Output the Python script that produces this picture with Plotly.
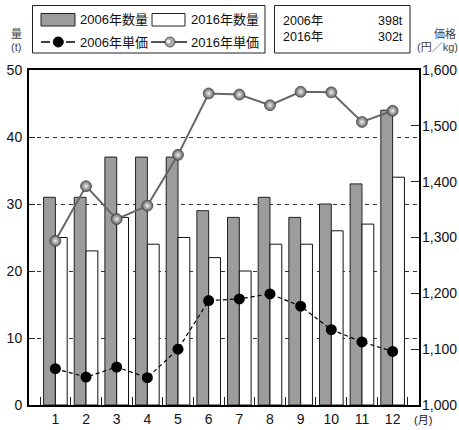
import plotly.graph_objects as go

# Monthly volumes (t) and unit prices (yen/kg), 2006 vs 2016
months = ["1", "2", "3", "4", "5", "6", "7", "8", "9", "10", "11", "12"]
qty_2006 = [31, 31, 37, 37, 37, 29, 28, 31, 28, 30, 33, 44]
qty_2016 = [25, 23, 28, 24, 25, 22, 20, 24, 24, 26, 27, 34]
price_2006 = [1065, 1050, 1068, 1049, 1100, 1187, 1190, 1199, 1177, 1135, 1113, 1096]
price_2016 = [1294, 1392, 1333, 1357, 1448, 1558, 1556, 1537, 1561, 1560, 1507, 1527]
total_years = ["2006年", "2016年"]
total_tons = ["398t", "302t"]
legend_labels = ["2006年数量", "2016年数量", "2006年単価", "2016年単価"]

W, H = 459, 430
L, R, T, B = 29, 419, 70, 405
FONT = "Liberation Sans, Arial, Noto Sans CJK JP, sans-serif"
GRAY_BAR = "#9c9c9c"


def px(x):
    return (x - L) / (R - L)


def py(y):
    return (B - y) / (B - T)


fig = go.Figure()

fig.add_trace(go.Bar(x=months, y=qty_2006, name=legend_labels[0],
                     marker=dict(color=GRAY_BAR, line=dict(color="#222", width=1))))
fig.add_trace(go.Bar(x=months, y=qty_2016, name=legend_labels[1],
                     marker=dict(color="white", line=dict(color="#111", width=1))))

fig.add_trace(go.Scatter(x=months, y=price_2006, yaxis="y2", mode="lines+markers",
                         name=legend_labels[2],
                         line=dict(color="black", width=1.2, dash="4px,3px"),
                         marker=dict(color="black", size=11)))
fig.add_trace(go.Scatter(x=months, y=price_2016, yaxis="y2", mode="lines+markers",
                         name=legend_labels[3],
                         line=dict(color="#666", width=2),
                         marker=dict(color="#5e5e5e", size=11,
                                     gradient=dict(type="radial", color="#f0f0f0"),
                                     line=dict(color="#333", width=0.6))))

shapes = []
annotations = []

# legend box for series
shapes.append(dict(type="rect", xref="paper", yref="paper",
                   x0=px(32.5), x1=px(265), y0=py(53), y1=py(5.5),
                   line=dict(color="#222", width=1), fillcolor="white"))
shapes.append(dict(type="rect", xref="paper", yref="paper",
                   x0=px(41), x1=px(75), y0=py(26), y1=py(13.5),
                   line=dict(color="#222", width=1), fillcolor=GRAY_BAR))
shapes.append(dict(type="rect", xref="paper", yref="paper",
                   x0=px(152), x1=px(185), y0=py(26), y1=py(13.5),
                   line=dict(color="#222", width=1), fillcolor="white"))
# dashed key for 2006 price
for a, b in [(41, 50), (66, 75)]:
    shapes.append(dict(type="line", xref="paper", yref="paper",
                       x0=px(a), x1=px(b), y0=py(42), y1=py(42),
                       line=dict(color="black", width=1.5)))
shapes.append(dict(type="circle", xref="paper", yref="paper",
                   x0=px(53.3), x1=px(63.3), y0=py(47), y1=py(37),
                   line=dict(color="black", width=1), fillcolor="black"))
# solid key for 2016 price
shapes.append(dict(type="line", xref="paper", yref="paper",
                   x0=px(151), x1=px(187), y0=py(42), y1=py(42),
                   line=dict(color="#555", width=2)))
shapes.append(dict(type="circle", xref="paper", yref="paper",
                   x0=px(165), x1=px(175), y0=py(47), y1=py(37),
                   line=dict(color="#333", width=0.8), fillcolor="#a8a8a8"))
shapes.append(dict(type="circle", xref="paper", yref="paper",
                   x0=px(166.5), x1=px(170.5), y0=py(43.5), y1=py(39.5),
                   line=dict(width=0), fillcolor="#eeeeee"))

for x, y, t in [(77.5, 19.5, legend_labels[0]), (189, 19.5, legend_labels[1]),
                (77.5, 42, legend_labels[2]), (189, 42, legend_labels[3])]:
    annotations.append(dict(xref="paper", yref="paper", x=px(x), y=py(y), text=t,
                            showarrow=False, xanchor="left", yanchor="middle",
                            font=dict(family=FONT, size=13, color="#111")))

# totals box
shapes.append(dict(type="rect", xref="paper", yref="paper",
                   x0=px(274.5), x1=px(410), y0=py(53), y1=py(5.5),
                   line=dict(color="#222", width=1), fillcolor="white"))
annotations.append(dict(xref="paper", yref="paper", x=px(281), y=py(29), 
                        text="<br>".join(total_years), align="left",
                        showarrow=False, xanchor="left", yanchor="middle",
                        font=dict(family=FONT, size=12.5, color="#111")))
annotations.append(dict(xref="paper", yref="paper", x=px(405), y=py(29),
                        text="<br>".join(total_tons), align="right",
                        showarrow=False, xanchor="right", yanchor="middle",
                        font=dict(family=FONT, size=12.5, color="#111")))

# axis titles
for x, y, t in [(16.5, 34, "量"), (15.5, 46.5, "(t)"),
                (445, 33.5, "価格"), (437.5, 46.5, "(円／kg)")]:
    annotations.append(dict(xref="paper", yref="paper", x=px(x), y=py(y), text=t,
                            showarrow=False, xanchor="center", yanchor="middle",
                            font=dict(family=FONT, size=11, color="#444")))
annotations.append(dict(xref="paper", yref="paper", x=px(422.5), y=py(420), text="(月)",
                        showarrow=False, xanchor="center", yanchor="middle",
                        font=dict(family=FONT, size=11, color="#222")))

fig.update_layout(
    width=W, height=H,
    margin=dict(l=L, r=W - R, t=T, b=H - B, pad=0, autoexpand=False),
    paper_bgcolor="white", plot_bgcolor="white",
    barmode="group", bargap=0.23, bargroupgap=0,
    showlegend=False,
    font=dict(family=FONT, size=14, color="#111"),
    xaxis=dict(type="category", showline=True, linecolor="black", linewidth=2,
               mirror=True, ticks="inside", tickson="boundaries", ticklen=8,
               tickcolor="#222", tickwidth=1, showgrid=False, automargin=False,
               tickfont=dict(size=14)),
    yaxis=dict(range=[0, 50], dtick=10, showline=True, linecolor="black", linewidth=2,
               mirror=True, ticks="inside", ticklen=6, tickcolor="#222",
               showgrid=True, gridcolor="#333", griddash="4px,4px", gridwidth=1,
               zeroline=False, tickfont=dict(size=14), ticklabelstandoff=2,
               automargin=False),
    yaxis2=dict(range=[1000, 1600], dtick=100, tickformat=",d", overlaying="y",
                side="right", showline=False, showgrid=False, zeroline=False,
                ticks="inside", ticklen=8, tickcolor="#222", automargin=False,
                tickfont=dict(size=14), ticklabelstandoff=2),
    shapes=shapes,
    annotations=annotations,
)

fig.write_html("out.html", config={"displayModeBar": False})
